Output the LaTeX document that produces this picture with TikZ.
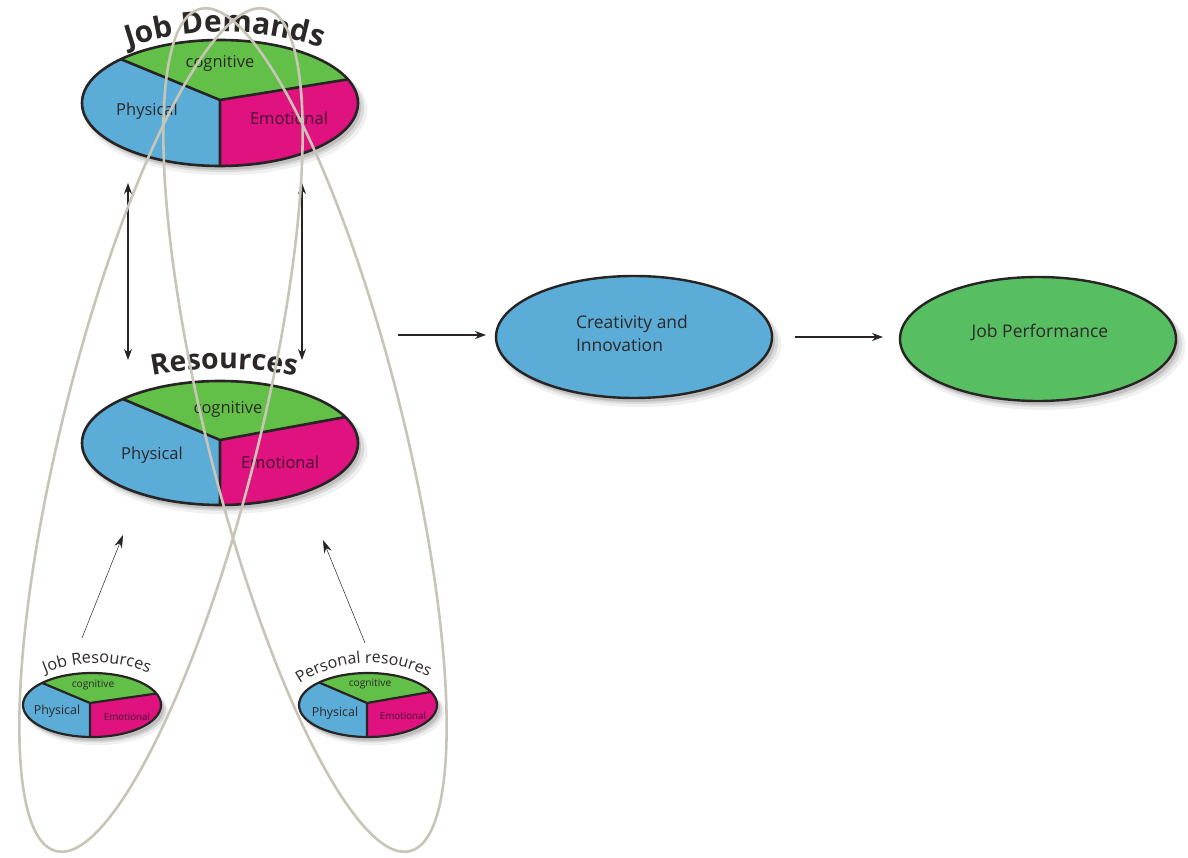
\documentclass[tikz,border=0pt]{standalone}
\usepackage{fontspec}
\setmainfont{Open Sans}
\usetikzlibrary{shapes.geometric,shadows,arrows.meta,decorations.text}
\definecolor{pblue}{RGB}{91,173,216}
\definecolor{pgreen}{RGB}{98,192,72}
\definecolor{pmag}{RGB}{224,18,128}
\definecolor{jpgreen}{RGB}{88,190,98}
\definecolor{outl}{RGB}{40,36,36}
\definecolor{loopc}{RGB}{200,196,182}
\definecolor{txt}{RGB}{45,40,40}
\definecolor{emotxt}{RGB}{70,15,50}
\newcommand\fs[1]{\fontsize{#1}{#1}\selectfont}
\newcommand\mypie[8]{%
  \node[pienode, minimum width=2*#3, minimum height=2*#4] (#1) at (#2) {};
  \begin{scope}
    \clip (#2) ellipse [x radius=#3, y radius=#4];
    \fill[pgreen] (#7) -- (#5) -- ++(-300,0) -- ++(0,300) -- ++(900,0) |- (#6) -- cycle;
    \fill[pmag] (#7) -- (#6) -- ++(300,0) -- ++(0,-300) -| (#7) -- cycle;
    \draw[outline, line width=#8] (#5) -- (#7) -- (#6) (#7) -- ++(0,-200);
  \end{scope}
  \draw[outline, line width=#8] (#2) ellipse [x radius=#3, y radius=#4];
}
\begin{document}
\begin{tikzpicture}[x=1pt,y=1pt,
  outline/.style={draw=outl, line join=round},
  softshadow/.style={
     general shadow={fill=black, opacity=.06, shadow xshift=5pt, shadow yshift=-7pt, shadow scale=1.03},
     general shadow={fill=black, opacity=.09, shadow xshift=4pt, shadow yshift=-5pt, shadow scale=1.015},
     general shadow={fill=black, opacity=.12, shadow xshift=3pt, shadow yshift=-4pt}},
  pienode/.style={ellipse, fill=pblue, inner sep=0pt, outer sep=0pt, softshadow},
  bigell/.style={ellipse, draw=outl, line width=2.4pt, inner sep=0pt, outer sep=0pt, softshadow},
  lbl/.style={inner sep=0pt, text=txt},
  loopst/.style={draw=loopc, line width=2.6pt},
  arr/.style={draw=outl, line width=1.1pt, -{Stealth[length=11pt,width=8pt]}},
  darr/.style={draw=outl, line width=1.1pt, {Stealth[length=11pt,width=8pt]}-{Stealth[length=11pt,width=8pt]}},
  tarr/.style={draw=outl, line width=0.5pt, -{Stealth[length=13pt,width=8pt]}},
  arctitle/.style={decorate, decoration={text along path, text align=center, text={#1}}}
]
\useasboundingbox (0,0) rectangle (1188,-858);

% pies
\mypie{jd}{220,-103}{138}{63}{118,-58}{350,-79}{220,-100}{2.6pt}
\mypie{res}{220,-443}{138}{62}{118,-397}{351,-416}{220,-440}{2.6pt}
\mypie{jr}{92,-705}{69}{32}{40,-682}{160,-693}{90,-703}{2.2pt}
\mypie{pr}{368,-705}{69}{32}{318,-682}{436,-691}{367,-703}{2.2pt}

% pie labels
\node[lbl] (jdc) at (220,-63) {\fs{16.5}cognitive};
\node[lbl] (jdp) at (147,-111) {\fs{16.5}Physical};
\node[lbl, text=emotxt] (jde) at (289,-118) {\fs{16.5}Emotional};
\node[lbl] (rc) at (228,-409) {\fs{16.5}cognitive};
\node[lbl] (rp) at (152,-455) {\fs{16.5}Physical};
\node[lbl, text=emotxt] (re) at (280,-462) {\fs{16.5}Emotional};
\node[lbl] (jrc) at (93,-685) {\fs{10.2}cognitive};
\node[lbl] (jrp) at (57,-711) {\fs{12.4}Physical};
\node[lbl, text=emotxt] (jre) at (127,-717) {\fs{9.8}Emotional};
\node[lbl] (prc) at (370,-684) {\fs{10.2}cognitive};
\node[lbl] (prp) at (335,-713) {\fs{12.4}Physical};
\node[lbl, text=emotxt] (pre) at (403,-716) {\fs{9.8}Emotional};

% curved titles
\path[arctitle={|\fs{30}\bfseries\color{txt}|Job Demands}] (225,-340) ++(118:308) arc[start angle=118, end angle=62, radius=308];
\path[arctitle={|\fs{28.5}\bfseries\color{txt}|Resources}] (224,-743) ++(106:374) arc[start angle=106, end angle=74, radius=374];
\path[arctitle={|\fs{16.3}\color{txt}|Job Resources}] (97,-800) ++(122:137) arc[start angle=122, end angle=58, radius=137];
\path[arctitle={|\fs{16}\color{txt}|Personal resoures}] (370,-793) ++(133:130) arc[start angle=133, end angle=53, radius=130];

% right ellipses
\node[bigell, fill=pblue, minimum width=276, minimum height=122] (ci) at (634,-337) {};
\node[lbl, align=left, font=\fontsize{17.5}{23}\selectfont] (citext) at (632,-333) {Creativity and\\Innovation};
\node[bigell, fill=jpgreen, minimum width=276, minimum height=124] (jp) at (1038,-339) {};
\node[lbl, font=\fs{17.5}] (jptext) at (1040,-332) {Job Performance};

% connectors
\coordinate (a1) at (398,-335);
\draw[arr, shorten >=10pt] (a1) -- (a1 -| ci.west);
\draw[arr, shorten <=23pt, shorten >=17pt] (ci.east) -- (ci.east -| jp.west);
\coordinate (d1t) at (128,-183);
\coordinate (d1b) at (128,-360);
\coordinate (d2t) at (302,-183);
\coordinate (d2b) at (302,-360);
\draw[darr] (d1t) -- (d1b);
\draw[darr] (d2t) -- (d2b);
\coordinate (t1s) at (82,-638);
\coordinate (t1e) at (123,-535);
\coordinate (t2s) at (365,-643);
\coordinate (t2e) at (323,-540);
\draw[tarr] (t1s) -- (t1e);
\draw[tarr] (t2s) -- (t2e);

% loops
\draw[loopst, rotate around={76:(161,-430)}] (161,-430) ellipse [x radius=434, y radius=98];
\draw[loopst, rotate around={104:(305,-430)}] (305,-430) ellipse [x radius=434, y radius=98];
\end{tikzpicture}
\end{document}
